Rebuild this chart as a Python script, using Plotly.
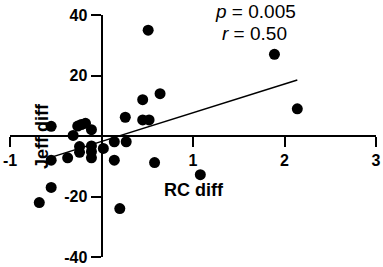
import plotly.graph_objects as go

rc_diff = [0.51, 1.89, 2.14, 0.64, 0.45, 0.45, 0.52, 0.26, -0.55, -0.26, -0.22, -0.175,
           -0.11, -0.31, -0.24, -0.11, -0.24, -0.11, -0.11, 0.02, 0.14, 0.27, -0.37,
           -0.55, 0.14, 0.58, -0.55, -0.68, 0.20, 1.08]
jeff_diff = [35, 27, 9, 14, 12, 5.3, 5.3, 6.2, 3.2, 3.3, 3.8, 4.2,
             2.1, 0.2, -3.5, -3.3, -5.4, -5.2, -7.2, -4.1, -1.9, -1.9, -7.2,
             -8, -8, -8.8, -17, -22, -24, -12.8]

fit_slope = 9.5
fit_intercept = -1.8
fit_x = [-0.58, 2.14]
fit_y = [fit_intercept + fit_slope * x for x in fit_x]

x_ticks = [-1, 1, 2, 3]
y_ticks = [-40, -20, 20, 40]

W, H = 383, 267
l, r, t, b = 10, 7, 15, 10
pw, ph = W - l - r, H - t - b

fig = go.Figure()
fig.add_trace(go.Scatter(x=fit_x, y=fit_y, mode="lines",
                         line=dict(color="black", width=1.5), hoverinfo="skip"))
fig.add_trace(go.Scatter(x=rc_diff, y=jeff_diff, mode="markers",
                         marker=dict(color="black", size=11)))

font_family = "Liberation Sans, Arial, sans-serif"
axis_common = dict(showgrid=False, zeroline=False, showline=True, linecolor="black",
                   linewidth=2, ticks="outside", ticklen=10, tickwidth=2, tickcolor="black",
                   tickfont=dict(family=font_family, size=16, color="black", weight="bold"),
                   anchor="free", automargin=False)

def ann(text, px, py, size, bold=False, angle=0):
    f = dict(family=font_family, size=size, color="black")
    if bold:
        f["weight"] = "bold"
    return dict(text=text, xref="paper", yref="paper",
                x=(px - l) / pw, y=1 - (py - t) / ph, xanchor="center", yanchor="middle",
                showarrow=False, textangle=angle, font=f)

fig.update_layout(
    width=W, height=H,
    margin=dict(l=l, r=r, t=t, b=b, autoexpand=False),
    plot_bgcolor="white", paper_bgcolor="white",
    showlegend=False,
    xaxis=dict(range=[-1, 3], tickvals=x_ticks, ticktext=[str(v) for v in x_ticks],
               position=0.5, **axis_common),
    yaxis=dict(range=[-40, 40], tickvals=y_ticks, ticktext=[str(v) for v in y_ticks],
               position=0.25, **axis_common),
    annotations=[
        ann("RC diff", 194, 190, 18, bold=True),
        ann("<i>p</i> = 0.005", 255, 12, 19),
        ann("<i>r</i> = 0.50", 254, 34, 19),
        ann("Jeff diff", 42, 136, 18, bold=True, angle=-90),
    ],
)

fig.write_html("out.html", config={"displayModeBar": False},
               post_script="document.body.style.margin='0';")
